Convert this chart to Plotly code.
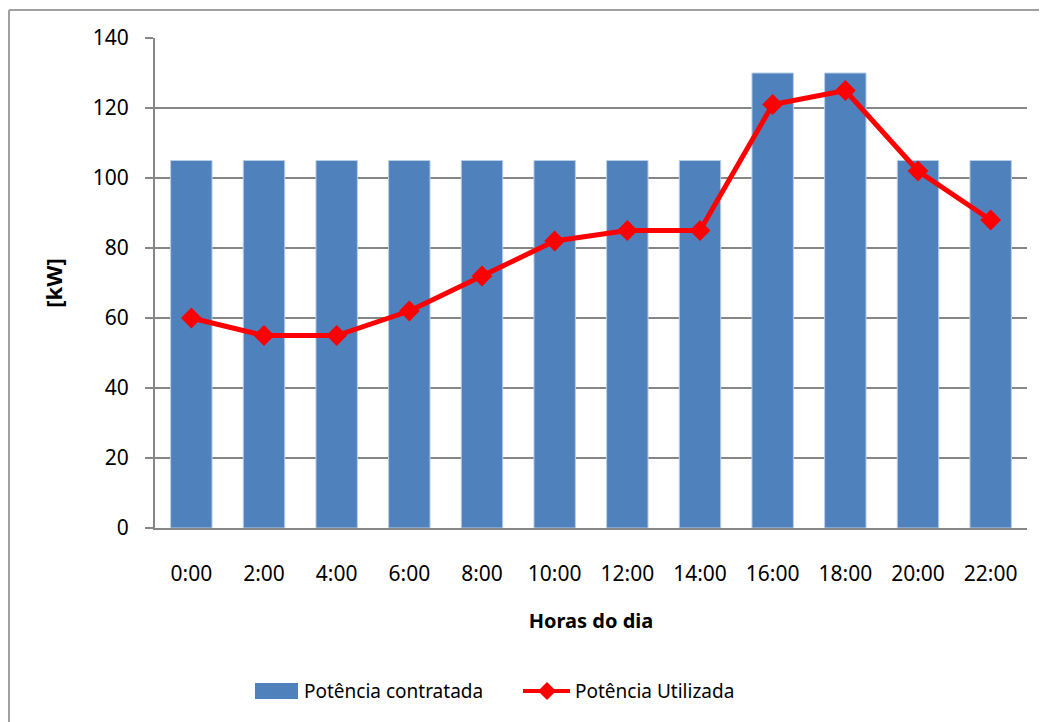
import plotly.graph_objects as go

horas = ["0:00", "2:00", "4:00", "6:00", "8:00", "10:00",
         "12:00", "14:00", "16:00", "18:00", "20:00", "22:00"]
contratada = [105, 105, 105, 105, 105, 105, 105, 105, 130, 130, 105, 105]
utilizada = [60, 55, 55, 62, 72, 82, 85, 85, 121, 125, 102, 88]

FONT = "Noto Sans"
BLUE = "#4F81BD"
RED = "#FF0000"
GRAY = "#868686"

# plot area in figure pixels (page has an 8px body margin)
L, R, T, B = 147, 1019, 30, 520


def px(sx):
    # screen x -> paper x
    return (sx - 8 - L) / (R - L)


def py(sy):
    # screen y -> paper y
    return (B - (sy - 8)) / (B - T)


fig = go.Figure()
fig.add_trace(go.Bar(
    x=horas, y=contratada, name="Potência contratada",
    marker=dict(color=BLUE, line=dict(color="#B9CDE5", width=1)),
))
fig.add_trace(go.Scatter(
    x=horas, y=utilizada, name="Potência Utilizada",
    mode="lines+markers",
    line=dict(color=RED, width=5),
    marker=dict(symbol="diamond", size=16, color=RED),
))

# outer chart border (only left and top are visible)
fig.add_shape(type="line", xref="paper", yref="paper",
              x0=px(9), x1=px(9), y0=py(10), y1=py(740),
              line=dict(color="#A0A0A0", width=2))
fig.add_shape(type="line", xref="paper", yref="paper",
              x0=px(9), x1=px(1060), y0=py(10), y1=py(10),
              line=dict(color="#A0A0A0", width=2))

# hand-drawn legend to get Excel-style wide swatches
fig.add_shape(type="rect", xref="paper", yref="paper",
              x0=px(255), x1=px(298), y0=py(699), y1=py(683),
              fillcolor=BLUE, line=dict(width=0))
fig.add_annotation(text="Potência contratada", xref="paper", yref="paper",
                   x=px(302), y=py(691), xanchor="left", yanchor="middle",
                   showarrow=False, font=dict(size=19))
fig.add_shape(type="line", xref="paper", yref="paper",
              x0=px(523), x1=px(570), y0=py(691), y1=py(691),
              line=dict(color=RED, width=4))
fig.add_shape(type="path", xref="paper", yref="paper",
              path=(f"M {px(547)},{py(682)} L {px(556)},{py(691)} "
                    f"L {px(547)},{py(700)} L {px(538)},{py(691)} Z"),
              fillcolor=RED, line=dict(width=0))
fig.add_annotation(text="Potência Utilizada", xref="paper", yref="paper",
                   x=px(573), y=py(691), xanchor="left", yanchor="middle",
                   showarrow=False, font=dict(size=19))

fig.update_layout(
    width=1039, height=714,
    margin=dict(l=L, r=1039 - R, t=T, b=714 - B, autoexpand=False),
    plot_bgcolor="white", paper_bgcolor="white",
    font=dict(family=FONT, size=21, color="black"),
    bargap=0.43,
    showlegend=False,
    xaxis=dict(
        range=[-0.5, 11.5],
        showgrid=False, showline=True, linecolor=GRAY, linewidth=2,
        ticks="", ticklabelstandoff=26,
        title=dict(text="<b>Horas do dia</b>", font=dict(size=20), standoff=28),
    ),
    yaxis=dict(
        range=[0, 140], dtick=20, showgrid=True, gridcolor=GRAY, gridwidth=2,
        showline=True, linecolor=GRAY, linewidth=2,
        ticks="outside", ticklen=8, tickcolor=GRAY, tickwidth=2,
        ticklabelstandoff=12, zeroline=False,
        title=dict(text="<b>[kW]</b>", font=dict(size=22), standoff=24),
    ),
)

fig.write_html("out.html")
